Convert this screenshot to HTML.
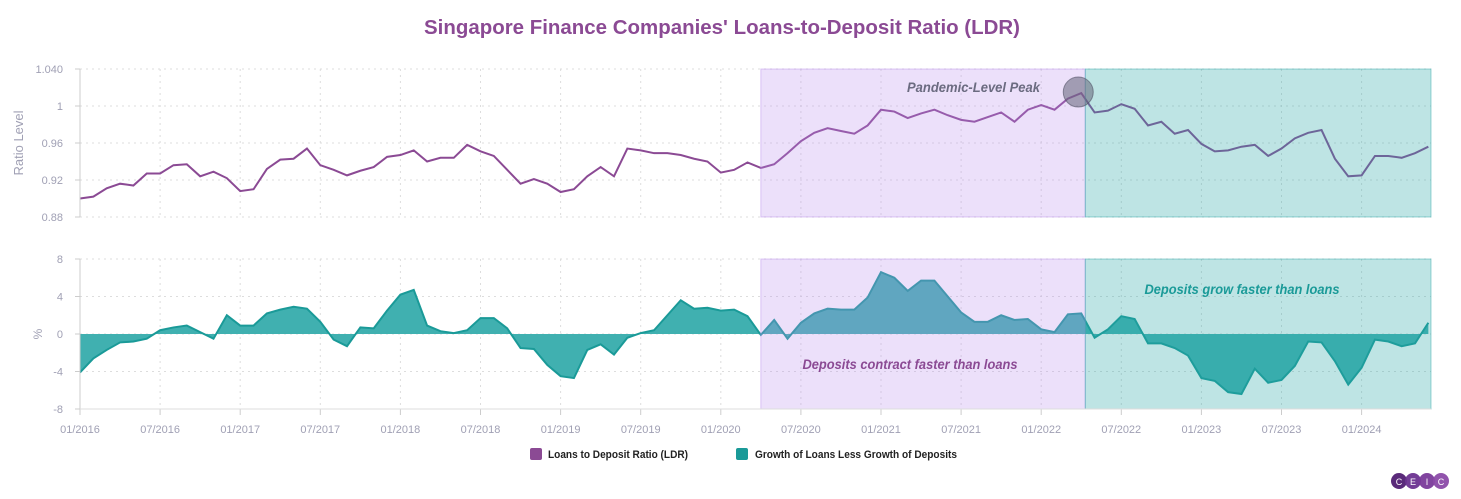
<!DOCTYPE html>
<html><head><meta charset="utf-8"><style>
html,body{margin:0;padding:0;background:#fff;}
svg{display:block;font-family:"Liberation Sans",sans-serif;}
</style></head><body>
<svg id="chart" width="1461" height="499" viewBox="0 0 1461 499">
<text x="722" y="34" text-anchor="middle" font-size="20" font-weight="bold" fill="#8b4a94" textLength="596" lengthAdjust="spacingAndGlyphs">Singapore Finance Companies' Loans-to-Deposit Ratio (LDR)</text>
<g id="grid"></g>
<g id="series"></g>
<g id="bands"></g>
<g id="axes"></g>
<g id="annot"></g>
<g>
 <g><rect x="530" y="448" width="12" height="12" rx="2" fill="#8b4a94"/><text x="548" y="458" font-size="11" font-weight="bold" fill="#222" textLength="140" lengthAdjust="spacingAndGlyphs">Loans to Deposit Ratio (LDR)</text></g>
 <g><rect x="736" y="448" width="12" height="12" rx="2" fill="#1a9a98"/><text x="755" y="458" font-size="11" font-weight="bold" fill="#222" textLength="202" lengthAdjust="spacingAndGlyphs">Growth of Loans Less Growth of Deposits</text></g>
</g>
<g>
 <circle cx="1399" cy="481" r="8" fill="#5a2a7a"/><circle cx="1413" cy="481" r="8" fill="#6b3390" opacity="0.95"/><circle cx="1427" cy="481" r="8" fill="#7a3a9a" opacity="0.95"/><circle cx="1441" cy="481" r="8" fill="#8b4aa8" opacity="0.95"/>
 <text x="1399" y="485" font-size="9" fill="#fff" text-anchor="middle">C</text><text x="1413" y="485" font-size="9" fill="#fff" text-anchor="middle">E</text><text x="1427" y="485" font-size="9" fill="#fff" text-anchor="middle">I</text><text x="1441" y="485" font-size="9" fill="#fff" text-anchor="middle">C</text>
</g>
</svg>
<script>
const ldrValues=[0.900,0.902,0.911,0.916,0.914,0.927,0.927,0.936,0.937,0.924,0.929,0.922,0.908,0.910,0.932,0.942,0.943,0.954,0.936,0.931,0.925,0.930,0.934,0.945,0.947,0.952,0.940,0.944,0.944,0.958,0.951,0.946,0.931,0.916,0.921,0.916,0.907,0.910,0.924,0.934,0.924,0.954,0.952,0.949,0.949,0.947,0.943,0.940,0.928,0.931,0.939,0.933,0.937,0.949,0.962,0.971,0.976,0.973,0.970,0.979,0.996,0.994,0.987,0.992,0.996,0.990,0.985,0.983,0.988,0.993,0.983,0.996,1.001,0.996,1.008,1.014,0.993,0.995,1.002,0.997,0.979,0.983,0.970,0.974,0.959,0.951,0.952,0.956,0.958,0.946,0.954,0.965,0.971,0.974,0.943,0.924,0.925,0.946,0.946,0.944,0.949,0.956];
const growthDiff=[-4.1,-2.6,-1.7,-0.9,-0.8,-0.5,0.4,0.7,0.9,0.2,-0.5,2.0,0.9,0.9,2.2,2.6,2.9,2.7,1.3,-0.6,-1.3,0.7,0.6,2.5,4.2,4.7,0.9,0.3,0.1,0.4,1.7,1.7,0.6,-1.5,-1.6,-3.3,-4.5,-4.7,-1.7,-1.1,-2.2,-0.4,0.1,0.4,2.0,3.6,2.7,2.8,2.5,2.6,1.9,-0.1,1.5,-0.5,1.2,2.2,2.7,2.6,2.6,3.9,6.6,6.0,4.6,5.7,5.7,4.0,2.3,1.3,1.3,2.0,1.5,1.6,0.5,0.2,2.1,2.2,-0.4,0.5,1.9,1.6,-1.0,-1.0,-1.5,-2.3,-4.7,-5.0,-6.2,-6.4,-3.7,-5.2,-4.9,-3.4,-0.8,-0.9,-2.9,-5.4,-3.6,-0.6,-0.8,-1.3,-1.0,1.2];
const xTickLabels=["01/2016","07/2016","01/2017","07/2017","01/2018","07/2018","01/2019","07/2019","01/2020","07/2020","01/2021","07/2021","01/2022","07/2022","01/2023","07/2023","01/2024"];
const ldrTicks=[0.88,0.92,0.96,1,1.04];
const ldrTickLabels=["0.88","0.92","0.96","1","1.040"];
const pctTicks=[-8,-4,0,4,8];
const bandMonths=[51,75.3,101.3];
const peakMonth=75;

const NS="http://www.w3.org/2000/svg";
const X0=80,XR=1431,MPX=13.35;
const xs=m=>X0+m*MPX;
const yTop=v=>106-(v-1)*925;
const yBot=v=>334-v*9.375;
function mk(tag,attrs,parent){const e=document.createElementNS(NS,tag);for(const k in attrs)e.setAttribute(k,attrs[k]);parent.appendChild(e);return e;}
const grid=document.getElementById('grid'),series=document.getElementById('series'),bands=document.getElementById('bands'),axes=document.getElementById('axes'),annot=document.getElementById('annot');

// horizontal grid + y labels
ldrTicks.forEach((t,i)=>{const y=yTop(t);
 const l=mk('line',{x1:X0,x2:XR,y1:y,y2:y,stroke:'#ddd','stroke-dasharray':'2,4'},grid);
 
 
 const tx=mk('text',{x:63,y:y+4,'font-size':11,fill:'#a0a0b4','text-anchor':'end'},axes);tx.textContent=ldrTickLabels[i];
 
 
 const tk=mk('line',{x1:X0-5,x2:X0,y1:y,y2:y,stroke:'#ccc'},axes);
});
pctTicks.forEach(t=>{const y=yBot(t);
 const l=mk('line',{x1:X0,x2:XR,y1:y,y2:y,stroke:'#ddd','stroke-dasharray':'2,4'},grid);
 
 
 const tx=mk('text',{x:63,y:y+4,'font-size':11,fill:'#a0a0b4','text-anchor':'end'},axes);tx.textContent=String(t);
 
 
 mk('line',{x1:X0-5,x2:X0,y1:y,y2:y,stroke:'#ccc'},axes);
});
// vertical grid + x labels
xTickLabels.forEach((lab,i)=>{const x=xs(i*6);
 [[69,217],[259,409]].forEach(r=>{const l=mk('line',{x1:x,x2:x,y1:r[0],y2:r[1],stroke:'#ddd','stroke-dasharray':'2,4'},grid);
  
  });
 mk('line',{x1:x,x2:x,y1:409,y2:415,stroke:'#ccc'},axes);
 const tx=mk('text',{x:x,y:433,'font-size':11,fill:'#a0a0b4','text-anchor':'middle'},axes);tx.textContent=lab;
 
 
});
mk('line',{x1:X0,x2:X0,y1:69,y2:217,stroke:'#ccc'},axes);
mk('line',{x1:X0,x2:X0,y1:259,y2:409,stroke:'#ccc'},axes);
mk('line',{x1:X0,x2:XR,y1:409,y2:409,stroke:'#ddd'},axes);
let t=mk('text',{x:0,y:0,'font-size':13,fill:'#a0a0b4','text-anchor':'middle',transform:'translate(23,143) rotate(-90)'},axes);t.textContent='Ratio Level';


t=mk('text',{x:0,y:0,'font-size':12,fill:'#a0a0b4','text-anchor':'middle',transform:'translate(42,334) rotate(-90)'},axes);t.textContent='%';



// area
let d='M'+xs(0)+','+yBot(0);
growthDiff.forEach((v,i)=>{d+=' L'+xs(i)+','+yBot(v);});
d+=' L'+xs(growthDiff.length-1)+','+yBot(0)+' Z';
const area=mk('path',{d:d,fill:'#40b0b0'},series);


const al=mk('polyline',{points:growthDiff.map((v,i)=>xs(i)+','+yBot(v)).join(' '),fill:'none',stroke:'#1a9a98','stroke-width':2},series);


const ll=mk('polyline',{points:ldrValues.map((v,i)=>xs(i)+','+yTop(v)).join(' '),fill:'none',stroke:'#8b4a94','stroke-width':2},series);



// bands
const bx0=xs(bandMonths[0]),bx1=xs(bandMonths[1]),bx2=Math.min(xs(bandMonths[2]),XR);
[[69,217],[259,409]].forEach(r=>{
 const p=mk('rect',{x:bx0,y:r[0],width:bx1-bx0,height:r[1]-r[0],fill:'rgba(185,140,235,0.27)',stroke:'rgba(185,140,235,0.45)'},bands);
 
 
 const q=mk('rect',{x:bx1,y:r[0],width:bx2-bx1,height:r[1]-r[0],fill:'rgba(40,165,165,0.3)',stroke:'rgba(40,165,165,0.45)'},bands);
 
 
});

// annotations
t=mk('text',{x:1040,y:92,'font-size':14,'font-weight':'bold','font-style':'italic',fill:'#6b6b80','text-anchor':'end',textLength:133,lengthAdjust:'spacingAndGlyphs'},annot);t.textContent='Pandemic-Level Peak';


const c=mk('circle',{cx:xs(peakMonth)-3,cy:yTop(ldrValues[peakMonth])-1,r:15,fill:'rgba(100,100,120,0.55)',stroke:'rgba(80,80,100,0.6)'},annot);


t=mk('text',{x:910,y:369,'font-size':14,'font-weight':'bold','font-style':'italic',fill:'#8b4a94','text-anchor':'middle',textLength:215,lengthAdjust:'spacingAndGlyphs'},annot);t.textContent='Deposits contract faster than loans';


t=mk('text',{x:1242,y:294,'font-size':14,'font-weight':'bold','font-style':'italic',fill:'#1a9a98','text-anchor':'middle',textLength:195,lengthAdjust:'spacingAndGlyphs'},annot);t.textContent='Deposits grow faster than loans';


</script>
</body></html>
